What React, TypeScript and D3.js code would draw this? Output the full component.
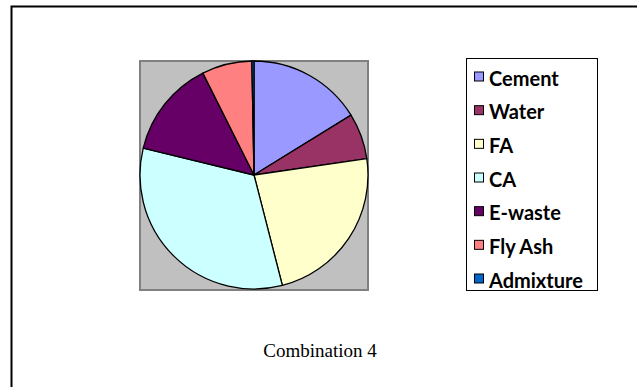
import React from "react";
import * as d3 from "d3";

const categories = ["Cement", "Water", "FA", "CA", "E-waste", "Fly Ash", "Admixture"];
const values = [16.2, 6.5, 23.3, 32.8, 13.8, 7.1, 0.3];
const colors = ["#9999FF", "#993366", "#FFFFCC", "#CCFFFF", "#660066", "#FF8080", "#0066CC"];
const title = "Combination 4";

const W = 637;
const H = 387;

export default function App() {
  const plot = { x: 140, y: 61, w: 228, h: 229 };
  const cx = 254;
  const cy = 175;
  const r = 114;
  const pie = d3.pie<number>().sort(null).value((d) => d)(values);
  const arc = d3.arc<d3.PieArcDatum<number>>().innerRadius(0).outerRadius(r);

  const legend = { x: 466.5, y: 58.5, w: 131, h: 232 };
  const itemY = d3.scalePoint<string>().domain(categories).range([legend.y + 18, legend.y + legend.h - 12]);

  return (
    <svg width={W} height={H} style={{ position: "absolute", left: 0, top: 0, background: "#fff" }}>
      <rect x={11.5} y={6.5} width={W + 20} height={H + 20} fill="#fff" stroke="#000" strokeWidth={2} />
      <rect x={plot.x} y={plot.y} width={plot.w} height={plot.h} fill="#C0C0C0" stroke="#808080" strokeWidth={2} />
      <g transform={`translate(${cx},${cy})`}>
        {pie.map((p, i) => (
          <path key={i} d={arc(p) || ""} fill={colors[i]} stroke="#000" strokeWidth={1.3} strokeLinejoin="round" />
        ))}
      </g>
      <rect x={legend.x} y={legend.y} width={legend.w} height={legend.h} fill="#fff" stroke="#000" strokeWidth={1} />
      {categories.map((c, i) => {
        const y = itemY(c) as number;
        return (
          <g key={c}>
            <rect x={474.5} y={y - 4.5} width={9} height={9} fill={colors[i]} stroke="#000" strokeWidth={1} />
            <text x={489} y={y + 1} dominantBaseline="central" fontFamily="Lato, 'Open Sans', sans-serif" fontWeight={700} fontSize={20} fill="#000">
              {c}
            </text>
          </g>
        );
      })}
      <text x={320} y={357} textAnchor="middle" fontFamily="'Liberation Serif', 'Times New Roman', serif" fontSize={19} fill="#000">
        {title}
      </text>
    </svg>
  );
}
